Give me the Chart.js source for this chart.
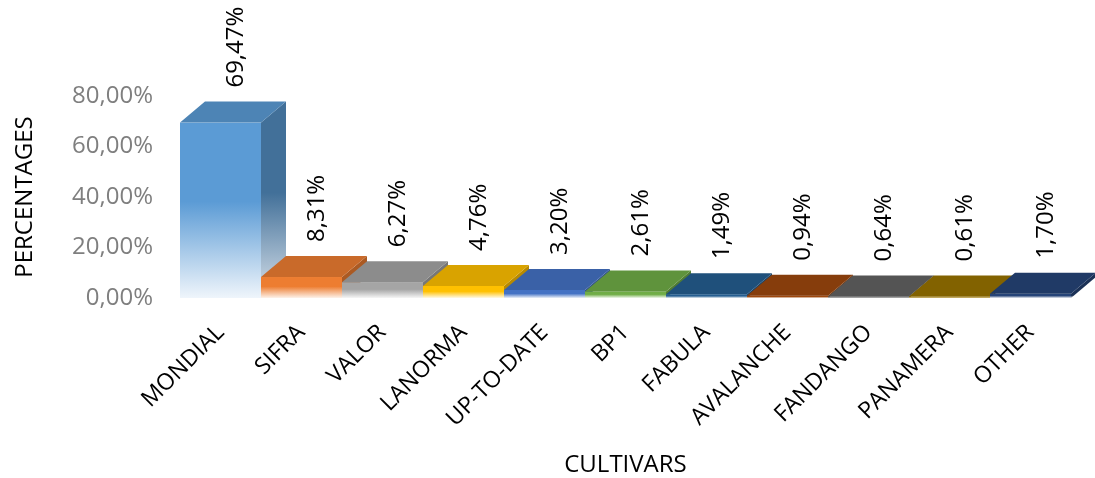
<!DOCTYPE html>
<html>
<head>
<meta charset="utf-8">
<script src="https://cdn.jsdelivr.net/npm/chart.js@4.4.0/dist/chart.umd.min.js"></script>
<style>
  html, body { margin: 0; padding: 0; background: #fff; }
</style>
</head>
<body>
<canvas id="cultivarsChart" width="1095" height="478"></canvas>
<script>
// Share of cultivars (3D-look column chart)
const cultivars = ['MONDIAL', 'SIFRA', 'VALOR', 'LANORMA', 'UP-TO-DATE', 'BP1', 'FABULA', 'AVALANCHE', 'FANDANGO', 'PANAMERA', 'OTHER'];
const percentages = [69.47, 8.31, 6.27, 4.76, 3.20, 2.61, 1.49, 0.94, 0.64, 0.61, 1.70];
const barColors = ['#5B9BD5', '#ED7D31', '#A5A5A5', '#FFC000', '#4472C4', '#70AD47', '#255E91', '#9E480E', '#636363', '#997300', '#264478'];
const yTicks = [0, 20, 40, 60, 80];

const FONT = 'Open Sans';
const DEPTH_X = 25;
const DEPTH_Y = -21;

function pct(v) {
  return Number(v).toFixed(2).replace('.', ',') + '%';
}

function rgb(hex) {
  const n = parseInt(hex.slice(1), 16);
  return [(n >> 16) & 255, (n >> 8) & 255, n & 255];
}
// darken by factor f
function shade(hex, f) {
  const c = rgb(hex).map((v) => Math.round(v * f));
  return 'rgb(' + c.join(',') + ')';
}
// darken by f, then mix towards white by m
function tint(hex, f, m) {
  const c = rgb(hex).map((v) => Math.round(v * f + (255 - v * f) * m));
  return 'rgb(' + c.join(',') + ')';
}

// draws each bar as a front / top / right-side box, left to right
const bars3d = {
  id: 'bars3d',
  beforeDatasetsDraw(chart) {
    const ctx = chart.ctx;
    const meta = chart.getDatasetMeta(0);
    ctx.save();
    meta.data.forEach(function (bar, i) {
      const p = bar.getProps(['x', 'y', 'base', 'width'], true);
      const l = p.x - p.width / 2;
      const r = p.x + p.width / 2;
      const top = p.y;
      const base = p.base;
      const col = barColors[i];

      // right side
      const gs = ctx.createLinearGradient(0, top, 0, base);
      gs.addColorStop(0, shade(col, 0.72));
      gs.addColorStop(0.4, shade(col, 0.72));
      gs.addColorStop(1, tint(col, 0.72, 0.8));
      ctx.fillStyle = gs;
      ctx.beginPath();
      ctx.moveTo(r, top);
      ctx.lineTo(r + DEPTH_X, top + DEPTH_Y);
      ctx.lineTo(r + DEPTH_X, base + DEPTH_Y);
      ctx.lineTo(r, base);
      ctx.closePath();
      ctx.fill();

      // front
      const gf = ctx.createLinearGradient(0, top, 0, base);
      gf.addColorStop(0, col);
      gf.addColorStop(0.45, col);
      gf.addColorStop(1, tint(col, 1, 0.9));
      ctx.fillStyle = gf;
      ctx.fillRect(l, top, p.width, base - top);

      // top
      ctx.fillStyle = shade(col, 0.85);
      ctx.beginPath();
      ctx.moveTo(l, top);
      ctx.lineTo(l + DEPTH_X, top + DEPTH_Y);
      ctx.lineTo(r + DEPTH_X, top + DEPTH_Y);
      ctx.lineTo(r, top);
      ctx.closePath();
      ctx.fill();
    });
    ctx.restore();
    return false;
  },
  afterDraw(chart) {
    const ctx = chart.ctx;
    const meta = chart.getDatasetMeta(0);
    ctx.save();
    ctx.fillStyle = '#000';
    ctx.font = '24px "' + FONT + '"';
    ctx.textAlign = 'left';
    ctx.textBaseline = 'middle';
    meta.data.forEach(function (bar, i) {
      ctx.save();
      ctx.translate(bar.x + 16, bar.y - 35);
      ctx.rotate(-Math.PI / 2);
      ctx.fillText(pct(percentages[i]), 0, 0);
      ctx.restore();
    });
    ctx.restore();
  },
};

new Chart(document.getElementById('cultivarsChart').getContext('2d'), {
  type: 'bar',
  data: {
    labels: cultivars,
    datasets: [
      {
        label: 'Percentages',
        data: percentages,
        backgroundColor: barColors,
        barPercentage: 1,
        categoryPercentage: 1,
      },
    ],
  },
  options: {
    responsive: false,
    animation: false,
    devicePixelRatio: 1,
    layout: { padding: { top: 96, right: 24, bottom: 0, left: 0 } },
    plugins: {
      legend: { display: false },
      tooltip: { enabled: false },
    },
    scales: {
      x: {
        afterFit: function (axis) {
          axis.height = 180;
        },
        grid: { display: false, drawTicks: false },
        border: { display: false },
        ticks: {
          autoSkip: false,
          minRotation: 45,
          maxRotation: 45,
          padding: 21,
          color: '#000',
          font: { family: FONT, size: 23 },
        },
        title: {
          display: true,
          text: 'CULTIVARS',
          color: '#000',
          font: { family: FONT, size: 24, lineHeight: 1 },
          padding: { top: 0, bottom: 1 },
        },
      },
      y: {
        min: 0,
        max: 80,
        afterBuildTicks: function (axis) {
          axis.ticks = yTicks.map((v) => ({ value: v }));
        },
        afterFit: function (axis) {
          axis.width = 180;
        },
        grid: { display: false, drawTicks: false },
        border: { display: false },
        ticks: {
          padding: 27,
          color: '#7F7F7F',
          font: { family: FONT, size: 24 },
          callback: function (v) {
            return pct(v);
          },
        },
        title: {
          display: true,
          text: 'PERCENTAGES',
          color: '#000',
          font: { family: FONT, size: 24, lineHeight: 1 },
          padding: { top: 13, bottom: 0 },
        },
      },
    },
  },
  plugins: [bars3d],
});
</script>
</body>
</html>
